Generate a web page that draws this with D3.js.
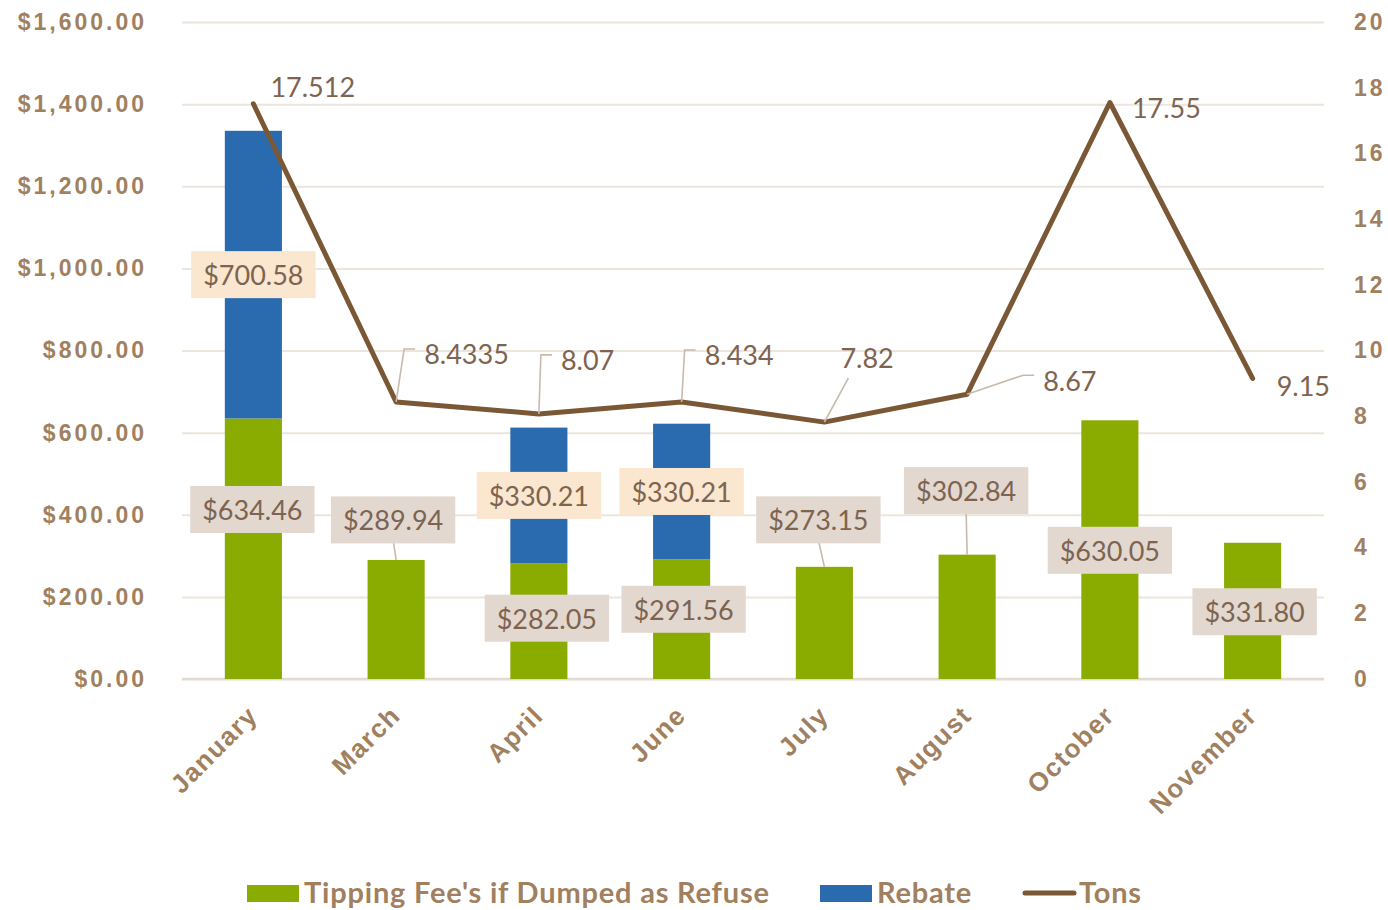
<!DOCTYPE html>
<meta charset="utf-8">
<style>
body { margin: 0; background: #fff; }
svg { font-family: Lato, "Open Sans", sans-serif; }
.axis text { fill: #a0805f; font-weight: bold; font-size: 23px; letter-spacing: 3px; }
.axis--x text { font-size: 26px; letter-spacing: 1.5px; }
.axis path { display: none; }
.grid line { stroke: #ebe5dd; stroke-width: 2; }
.grid path { display: none; }
.baseline { stroke: #e2dbd2; stroke-width: 2.5; }
.lbl { fill: #7e6450; font-size: 27px; }
.leader { stroke: #c9b9aa; stroke-width: 1.6; fill: none; }
.legend text { fill: #a0805f; font-weight: bold; font-size: 29px; letter-spacing: 0.8px; }
</style>
<body>
<svg width="1388" height="910"></svg>
<script src="https://d3js.org/d3.v7.min.js"></script>
<script>

// data
var months = ["January", "March", "April", "June", "July", "August", "October", "November"];
var tippingFee = [634.46, 289.94, 282.05, 291.56, 273.15, 302.84, 630.05, 331.80];
var rebate = [700.58, 0, 330.21, 330.21, 0, 0, 0, 0];
var tons = [17.512, 8.4335, 8.07, 8.434, 7.82, 8.67, 17.55, 9.15];
var leftTicks = [0, 200, 400, 600, 800, 1000, 1200, 1400, 1600];
var rightTicks = [0, 2, 4, 6, 8, 10, 12, 14, 16, 18, 20];

// hand-placed label offsets (pixels), as the labels were dragged in the original
var feeLabelDx = [-1, -3, 8, 2, -6, -1, 0, 2];
var feeLabelDy = [91, -40, 55, 50, -47, -64, 130, 69];
var feeLeader = [false, true, false, false, true, true, false, false];
var tonsLabelDx = [17, 28, 22, 23, 16, 76, 22, 24];
var tonsLabelDy = [-17, -48, -54, -47, -65, -14, 5, 7];
var tonsLeader = ["none", "elbow", "elbow", "elbow", "below", "elbow", "none", "none"];

var svg = d3.select("svg"),
    margin = {top: 22, right: 64, bottom: 231, left: 182},
    width = +svg.attr("width") - margin.left - margin.right,
    height = +svg.attr("height") - margin.top - margin.bottom;

var green = "#8aab00", blue = "#2a6bb0", brown = "#7a5835";

var table = months.map(function(m, i) {
  return {month: m, fee: tippingFee[i], rebate: rebate[i], tons: tons[i]};
});

var x = d3.scaleBand().domain(months).range([0, width]).paddingInner(0.6).paddingOuter(0.3),
    yL = d3.scaleLinear().domain([0, 1600]).range([height, 0]),
    yR = d3.scaleLinear().domain([0, 20]).range([height, 0]);

var g = svg.append("g")
    .attr("transform", "translate(" + margin.left + "," + margin.top + ")");

// gridlines
g.append("g")
    .attr("class", "grid")
    .call(d3.axisLeft(yL).tickValues(leftTicks).tickSize(-width).tickFormat(""));

g.append("line")
    .attr("class", "baseline")
    .attr("x1", 0).attr("x2", width)
    .attr("y1", yL(0)).attr("y2", yL(0));

// axes
g.append("g")
    .attr("class", "axis")
    .call(d3.axisLeft(yL).tickValues(leftTicks).tickSize(0).tickPadding(35)
      .tickFormat(function(d) { return "$" + d3.format(",.2f")(d); }));

g.append("g")
    .attr("class", "axis")
    .attr("transform", "translate(" + width + ",0)")
    .call(d3.axisRight(yR).tickValues(rightTicks).tickSize(0).tickPadding(30));

g.append("g")
    .attr("class", "axis axis--x")
    .attr("transform", "translate(0," + height + ")")
    .call(d3.axisBottom(x).tickSize(0))
    .selectAll("text")
      .attr("y", 0)
      .attr("x", 0)
      .attr("dy", 0)
      .attr("transform", "translate(6,38) rotate(-45)")
      .style("text-anchor", "end");

// stacked bars
var stack = d3.stack().keys(["fee", "rebate"])(table);
var colors = {fee: green, rebate: blue};

g.selectAll(".layer")
  .data(stack)
  .enter().append("g")
    .attr("class", "layer")
    .attr("fill", function(d) { return colors[d.key]; })
  .selectAll("rect")
  .data(function(d) { return d; })
  .enter().append("rect")
    .attr("x", function(d) { return x(d.data.month); })
    .attr("y", function(d) { return yL(d[1]); })
    .attr("width", x.bandwidth())
    .attr("height", function(d) { return yL(d[0]) - yL(d[1]); });

// tons line
var line = d3.line()
    .x(function(d) { return x(d.month) + x.bandwidth() / 2; })
    .y(function(d) { return yR(d.tons); });

g.append("path")
    .datum(table)
    .attr("fill", "none")
    .attr("stroke", brown)
    .attr("stroke-width", 5)
    .attr("stroke-linejoin", "round")
    .attr("stroke-linecap", "round")
    .attr("d", line);

// boxed labels
function boxLabel(cx, cy, txt, bg) {
  var lg = g.append("g");
  var rect = lg.append("rect").attr("fill", bg);
  var t = lg.append("text")
      .attr("class", "lbl")
      .attr("x", cx).attr("y", cy)
      .attr("text-anchor", "middle")
      .attr("dominant-baseline", "central")
      .text(txt);
  var b = t.node().getBBox();
  var w = Math.max(b.width + 24, 116), h = 47;
  rect.attr("x", cx - w / 2).attr("y", cy - h / 2).attr("width", w).attr("height", h);
  return cy + h / 2;
}

var money = function(v) { return "$" + d3.format(",.2f")(v); };

table.forEach(function(d, i) {
  var cx = x(d.month) + x.bandwidth() / 2;
  var top = yL(d.fee);
  var lx = cx + feeLabelDx[i], ly = top + feeLabelDy[i];
  if (feeLeader[i]) {
    g.append("line").attr("class", "leader")
      .attr("x1", lx).attr("y1", ly + 20)
      .attr("x2", cx).attr("y2", top);
  }
  boxLabel(lx, ly, money(d.fee), "#e2d8cf");
  if (d.rebate > 0) {
    boxLabel(cx, (yL(d.fee) + yL(d.fee + d.rebate)) / 2, money(d.rebate), "#fbe6cf");
  }
});

// tons labels
table.forEach(function(d, i) {
  var px = x(d.month) + x.bandwidth() / 2, py = yR(d.tons);
  var left = px + tonsLabelDx[i], cy = py + tonsLabelDy[i];
  if (tonsLeader[i] === "elbow") {
    g.append("path").attr("class", "leader")
      .attr("d", "M" + px + "," + py + "L" + (left - 20) + "," + (cy - 5) + "L" + (left - 9) + "," + (cy - 5));
  } else if (tonsLeader[i] === "below") {
    g.append("path").attr("class", "leader")
      .attr("d", "M" + px + "," + py + "L" + (left + 8) + "," + (cy + 21));
  }
  g.append("text")
      .attr("class", "lbl")
      .attr("x", left).attr("y", cy)
      .attr("dominant-baseline", "central")
      .text(String(d.tons));
});

// legend
var legend = svg.append("g").attr("class", "legend");
var items = [
  {name: "Tipping Fee's if Dumped as Refuse", type: "rect", color: green, x: 247},
  {name: "Rebate", type: "rect", color: blue, x: 820},
  {name: "Tons", type: "line", color: brown, x: 1022}
];
items.forEach(function(it) {
  if (it.type === "rect") {
    legend.append("rect").attr("x", it.x).attr("y", 885).attr("width", 52).attr("height", 17).attr("fill", it.color);
  } else {
    legend.append("line").attr("x1", it.x + 3).attr("x2", it.x + 52).attr("y1", 893).attr("y2", 893)
      .attr("stroke", it.color).attr("stroke-width", 5).attr("stroke-linecap", "round");
  }
  legend.append("text")
      .attr("x", it.x + 57)
      .attr("y", 903)
      .text(it.name);
});

</script>
</body>
